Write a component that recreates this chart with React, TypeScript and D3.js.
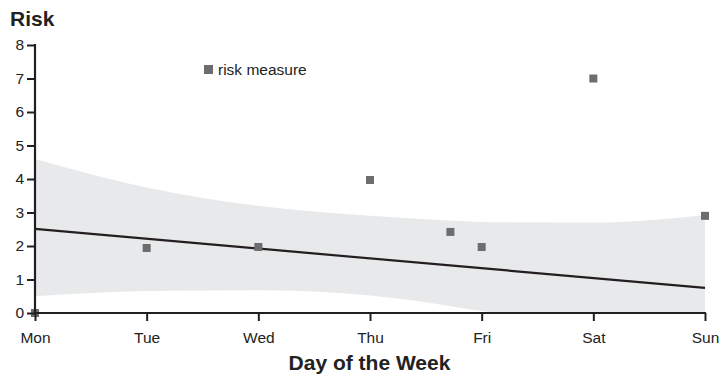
import React, { useEffect, useRef } from "react";
import * as d3 from "d3";

// tick labels
const days = ["Mon", "Tue", "Wed", "Thu", "Fri", "Sat", "Sun"];
const riskTicks = [0, 1, 2, 3, 4, 5, 6, 7, 8];

// risk measure points (x = day index, fractional for mid-day readings)
const pointDays = [0, 1, 2, 3, 3.72, 4, 5, 6];
const pointRisk = [0, 1.94, 1.97, 3.97, 2.42, 1.97, 7, 2.9];

// fitted trend line (start and end)
const trendDays = [0, 6];
const trendRisk = [2.51, 0.75];

// confidence band
const bandDays = [0, 1, 2, 3, 3.5, 4, 4.2, 5, 6];
const bandUpper = [4.6, 3.75, 3.2, 2.9, 2.8, 2.72, 2.71, 2.7, 2.92];
const bandLower = [0.5, 0.66, 0.68, 0.52, 0.32, 0.06, 0, 0, 0];

const App = () => {
  const svgRef = useRef<SVGSVGElement>(null);

  useEffect(() => {
    const w = 721;
    const h = 376;
    const font = "'Liberation Sans', Arial, Helvetica, sans-serif";
    const ink = "#231f20";

    const svg = d3.select(svgRef.current).attr("width", w).attr("height", h);
    svg.selectAll("*").remove();

    const x = d3.scaleLinear().domain([0, 6]).range([35, 705]);
    const y = d3.scaleLinear().domain([0, 8]).range([313, 45]);

    // band
    const area = d3
      .area<number>()
      .x((d) => x(d))
      .y0((d, i) => y(bandLower[i]))
      .y1((d, i) => y(bandUpper[i]))
      .curve(d3.curveMonotoneX);

    svg
      .append("path")
      .datum(bandDays)
      .attr("d", area)
      .attr("fill", "#e8e9ea");

    // trend line
    const line = d3
      .line<number>()
      .x((d) => x(d))
      .y((d, i) => y(trendRisk[i]));

    svg
      .append("path")
      .datum(trendDays)
      .attr("d", line)
      .attr("fill", "none")
      .attr("stroke", ink)
      .attr("stroke-width", 2.2);

    // points
    const s = 8;
    svg
      .selectAll(".pt")
      .data(pointDays)
      .join("rect")
      .attr("class", "pt")
      .attr("x", (d) => x(d) - s / 2)
      .attr("y", (d, i) => y(pointRisk[i]) - s / 2)
      .attr("width", s)
      .attr("height", s)
      .attr("fill", "#6d6d6d");

    // axes
    const xAxis = d3
      .axisBottom(x)
      .tickValues(d3.range(days.length))
      .tickFormat((d) => days[d as number])
      .tickSize(8)
      .tickSizeOuter(0);

    const gx = svg.append("g").attr("transform", `translate(0,313)`).call(xAxis);
    gx.select(".domain").attr("stroke", ink).attr("stroke-width", 2.2).attr("d", "M34,0H706");
    gx.selectAll(".tick line").attr("stroke", ink).attr("stroke-width", 2);
    gx.selectAll(".tick text")
      .attr("fill", "#222")
      .attr("font-family", font)
      .attr("font-size", 15.5)
      .attr("y", 30)
      .attr("dy", 0);

    const yAxis = d3.axisLeft(y).tickValues(riskTicks).tickFormat(d3.format("d")).tickSize(8).tickSizeOuter(0);
    const gy = svg.append("g").attr("transform", `translate(35,0)`).call(yAxis);
    gy.select(".domain").attr("stroke", ink).attr("stroke-width", 2.2).attr("d", "M0,44V314");
    gy.selectAll(".tick line").attr("stroke", ink).attr("stroke-width", 2);
    gy.selectAll(".tick text")
      .attr("fill", "#222")
      .attr("font-family", font)
      .attr("font-size", 15.5)
      .attr("x", -11);

    // titles
    svg
      .append("text")
      .attr("x", 10)
      .attr("y", 26)
      .attr("font-family", font)
      .attr("font-weight", "bold")
      .attr("font-size", 21)
      .attr("fill", "#222")
      .text("Risk");

    svg
      .append("text")
      .attr("x", 369.5)
      .attr("y", 370)
      .attr("text-anchor", "middle")
      .attr("font-family", font)
      .attr("font-weight", "bold")
      .attr("font-size", 21)
      .attr("fill", "#222")
      .text("Day of the Week");

    // legend
    const legend = svg.append("g").attr("transform", "translate(204,65)");
    legend.append("rect").attr("width", 9).attr("height", 9).attr("fill", "#6d6d6d");
    legend
      .append("text")
      .attr("x", 14)
      .attr("y", 9.5)
      .attr("font-family", font)
      .attr("font-size", 15.5)
      .attr("fill", "#222")
      .text("risk measure");
  }, []);

  return (
    <div style={{ position: "absolute", left: 0, top: 0 }}>
      <svg ref={svgRef}></svg>
    </div>
  );
};

export default App;
